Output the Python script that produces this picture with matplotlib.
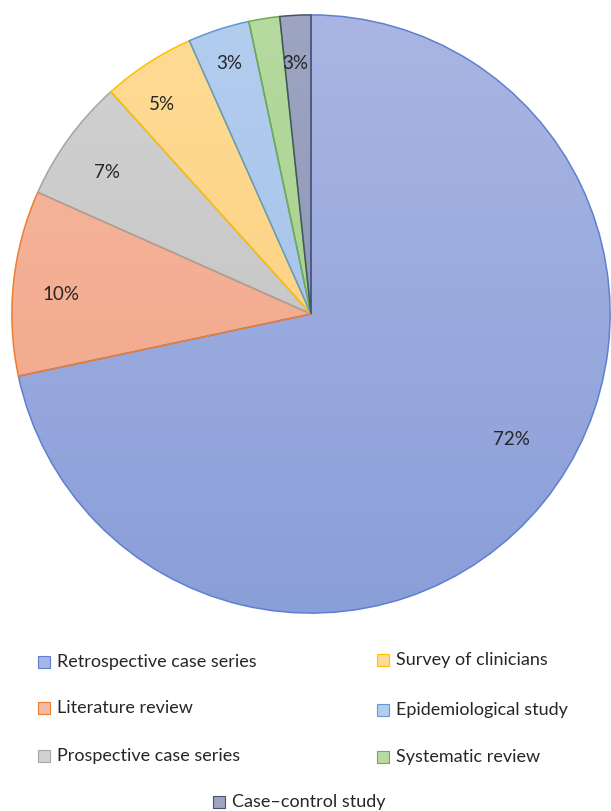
import numpy as np
import matplotlib
matplotlib.use('Agg')
import matplotlib.pyplot as plt
from matplotlib.patches import Rectangle
from matplotlib.colors import LinearSegmentedColormap

# number of studies per design, clockwise from 12 o'clock
designs = ['Retrospective case series', 'Literature review', 'Prospective case series',
           'Survey of clinicians', 'Epidemiological study', 'Systematic review',
           'Case\u2013control study']
counts = [43, 6, 4, 3, 2, 1, 1]
# percent labels; the two smallest slices share one label
pct_labels = ['72%', '10%', '7%', '5%', '3%', '', '3%']

# light (top) / dark (bottom) fill and outline per slice
light = ['#a9b6e3', '#f6b9a1', '#d2d2d2', '#fedb95', '#b3cdef', '#b6da9f', '#9da5c2']
dark = ['#8a9ed8', '#f0a384', '#bfbfbf', '#fccd78', '#9dbde8', '#a0ca85', '#858eaf']
edges = ['#5f7fd0', '#ed7d31', '#a5a5a5', '#ffc000', '#5b9bd5', '#70ad47', '#44546a']

W, H = 611, 811
fig = plt.figure(figsize=(W / 100, H / 100), dpi=100)
cx, cy, R = 311, 314, 300
ax = fig.add_axes([(cx - R) / W, (H - cy - R) / H, 2 * R / W, 2 * R / H])

wedges, _ = ax.pie(counts, startangle=90, counterclock=False, radius=1,
                   colors=dark, wedgeprops=dict(linewidth=1.1))

grad = np.linspace(0, 1, 256).reshape(-1, 1)
for w, lo, hi, ec in zip(wedges, light, dark, edges):
    cmap = LinearSegmentedColormap.from_list('g', [hi, lo])
    im = ax.imshow(grad, cmap=cmap, extent=(-1, 1, -1, 1), origin='lower',
                   aspect='auto', zorder=1)
    im.set_clip_path(w)
    w.set_facecolor('none')
    w.set_edgecolor(ec)
    w.set_zorder(2)

ax.set_xlim(-1.003, 1.003)
ax.set_ylim(-1.003, 1.003)
ax.set_aspect('equal')
ax.axis('off')

# label radius and angle nudge for each slice
lab_r = [0.79, 0.84, 0.83, 0.86, 0.88, 0.0, 0.84]
lab_nudge = [7, 1.5, 1.2, 2.4, 0, 0, 0.5]
for w, txt, r, dn in zip(wedges, pct_labels, lab_r, lab_nudge):
    if not txt:
        continue
    ang = np.deg2rad((w.theta1 + w.theta2) / 2 + dn)
    ax.text(r * np.cos(ang), r * np.sin(ang), txt, ha='center', va='center',
            fontsize=13.5, family='Lato', color='#262626', zorder=3)

# legend: two columns of three, last entry centred below
leg_pos = [(38, 662), (38, 708), (38, 756), (377, 660), (377, 710), (377, 757), (213, 802)]
for name, col, ec, (x, y) in zip(designs, light, edges, leg_pos):
    fig.patches.append(Rectangle((x / W, (H - y - 6) / H), 12 / W, 12 / H,
                                 transform=fig.transFigure, facecolor=col,
                                 edgecolor=ec, linewidth=0.8))
    fig.text((x + 19) / W, (H - y) / H, name, ha='left', va='center',
             fontsize=13, family='Lato', color='#262626')

fig.savefig('out.png', dpi=100)
